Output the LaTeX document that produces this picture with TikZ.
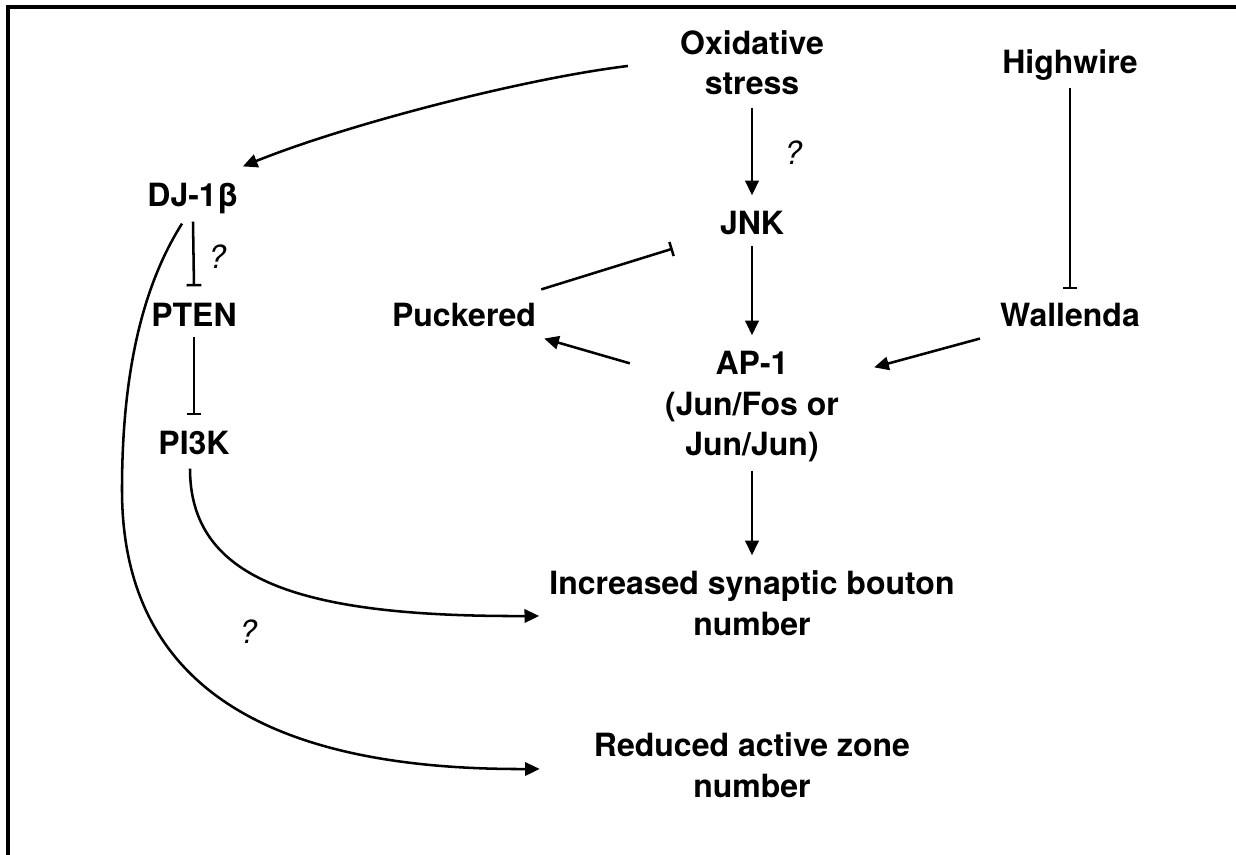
\documentclass[tikz,border=0pt]{standalone}
\usepackage{fontspec}
\setmainfont{TeX Gyre Heros}
\usetikzlibrary{arrows.meta}
\begin{document}
\begin{tikzpicture}[x=0.75pt,y=-0.75pt,
  lbl/.style={font=\fontsize{24}{30.4}\selectfont\bfseries, align=center, inner sep=0pt, anchor=base},
  qm/.style={font=\fontsize{24}{30.4}\selectfont\itshape, inner sep=0pt},
  link/.style={line width=1.9pt},
  act/.style={link, -{Triangle[length=11pt,width=10pt]}},
  inh/.style={link, -{Bar[width=11pt,line width=1.9pt]}},
]
\useasboundingbox (0,0) rectangle (1236,855);

% open frame: top and left edges
\draw[line width=3pt, line join=miter] (8,870) -- (8,7.5) -- (1250,7.5);

% pathway members (base = baseline of the last line)
\node[lbl] (ox)   at (752,95)  {Oxidative\\stress};
\node[lbl] (hw)   at (1070,74) {Highwire};
\node[lbl] (jnk)  at (752,235) {JNK};
\node[lbl] (dj)   at (193,207) {DJ-1β};
\node[lbl] (pten) at (194,327) {PTEN};
\node[lbl] (puck) at (464,327) {Puckered};
\node[lbl] (wal)  at (1070,327) {Wallenda};
\node[lbl] (ap1)  at (752,456) {AP-1\\(Jun/Fos or\\Jun/Jun)};
\node[lbl] (pi3k) at (194,455) {PI3K};
\node[lbl] (inc)  at (752,635) {Increased synaptic bouton\\number};
\node[lbl] (red)  at (752,797) {Reduced active zone\\number};

% uncertain links
\node[qm] (q1) at (793,153) {?};
\node[qm] (q2) at (217,257) {?};
\node[qm] (q3) at (248,632) {?};

\coordinate (djbend) at (122,490);

% activations
\draw[act] ([shift={(0,12)}]ox.south) -- ([shift={(0,-16)}]jnk.north);
\draw[act] ([shift={(0,10)}]jnk.south) -- ([shift={(0,-16)}]ap1.north);
\draw[act] ([shift={(0,8)}]ap1.south) -- ([shift={(0,-15)}]inc.north);
\draw[act] ([shift={(-52,3)}]ox.west) to[out=187,in=22,looseness=0.7] ([shift={(4,-17)}]dj.north east);
\draw[act] ([shift={(-35,12)}]ap1.north west) -- ([shift={(8,11)}]puck.south east);
\draw[act] ([shift={(-20,11)}]wal.south west) -- ([shift={(35,16)}]ap1.north east);
\draw[act] ([shift={(-4,13)}]pi3k.south) .. controls (190,580) and (300,617) .. ([shift={(-10,13)}]inc.west);
\draw[act] ([shift={(-11,9)}]dj.south) .. controls (140,290) and (122,380) .. (djbend)
  .. controls (122,700) and (290,770) .. ([shift={(-54,4)}]red.west);

% inhibitions
\draw[inh] ([shift={(0,7)}]hw.south) -- ([shift={(0,-14)}]wal.north);
\draw[inh] ([shift={(0,7)}]dj.south) -- ([shift={(0,-17)}]pten.north);
\draw[inh] ([shift={(0,10)}]pten.south) -- ([shift={(0,-16)}]pi3k.north);
\draw[inh] ([shift={(5,-14)}]puck.north east) -- ([shift={(-47,13)}]jnk.south west);
\end{tikzpicture}
\end{document}
